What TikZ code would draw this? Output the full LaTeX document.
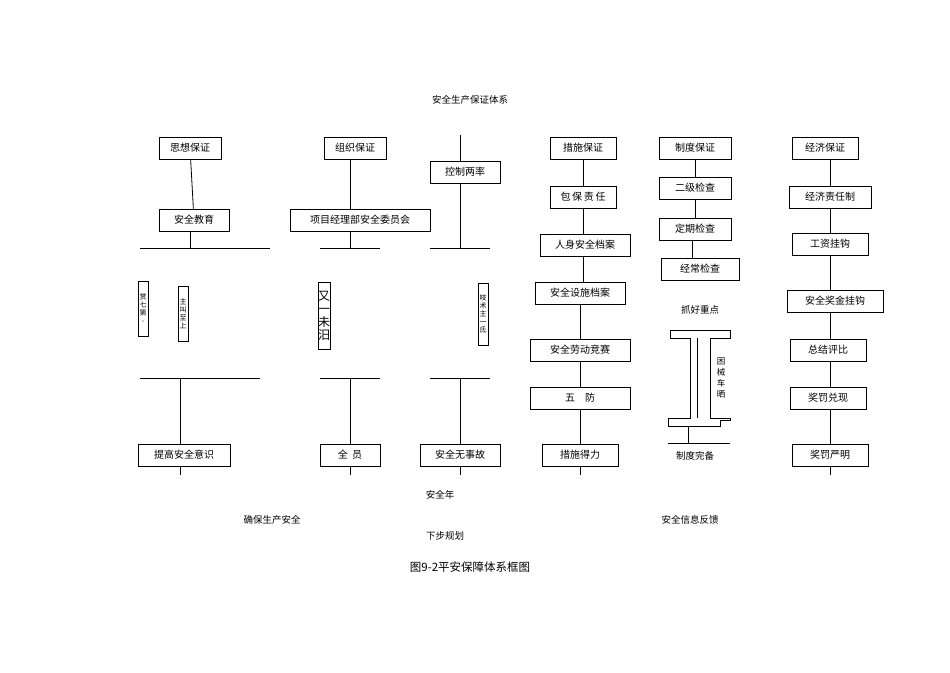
\documentclass[tikz,border=0pt]{standalone}
\usepackage{fontspec}
\newfontfamily\cjk{Noto Sans CJK SC}
\newfontfamily\cjkserif{Noto Sans CJK SC}[FakeBold=0]
\begin{document}
\begin{tikzpicture}[x=1pt,y=-1pt,
  box/.style={draw,line width=0.8pt,minimum height=22pt,inner sep=1pt,font=\cjk\fontsize{10}{11}\selectfont},
  lbl/.style={font=\cjk\fontsize{9.5}{11}\selectfont,inner sep=0pt},
  vbox/.style={draw,line width=0.5pt,inner sep=0.5pt,align=center,font=\cjk\fontsize{7}{8}\selectfont},
  ln/.style={line width=0.8pt}]
\useasboundingbox (0,0) rectangle (950,672);
\node[lbl] (title) at (470,100) {安全生产保证体系};
% column 1
\node[box,minimum width=62pt] (a1) at (190,148) {思想保证};
\node[box,minimum width=70pt] (a2) at (194,220) {安全教育};
\coordinate (a3) at (190,248);
\draw[ln] (a1) -- (a2); \draw[ln] (a2.south -| a3) -- (a3);
\draw[ln] (140,248) -- (270,248);
\node[vbox,minimum height=55pt,minimum width=10pt] (av1) at (143,309) {赏\\七\\第\\-};
\node[vbox,minimum height=55pt,minimum width=10pt] (av2) at (183,314) {主\\叫\\至\\上};
\draw[ln] (140,378) -- (260,378);
\node[box,minimum width=92pt] (a4) at (184,455) {提高安全意识};
\coordinate (a5) at (180,378);
\draw[ln] (a5) -- (a4.north -| a5); \draw[ln] (a4.south -| a5) -- (180,475);
% column 2
\node[box,minimum width=62pt] (b1) at (355,148) {组织保证};
\node[box,minimum width=140pt] (b2) at (360,220) {项目经理部安全委员会};
\draw[ln] (b1.south -| 350,0) -- (b2.north -| 350,0);
\draw[ln] (b2.south -| 350,0) -- (350,248);
\draw[ln] (320,248) -- (380,248);
\node[vbox,minimum height=67pt,minimum width=12pt,font=\cjk\fontsize{12}{13}\selectfont,inner sep=0pt] (bv) at (324,316) {又\\一\\未\\汨};
\draw[ln] (320,378) -- (380,378);
\node[box,minimum width=60pt] (b3) at (350,455) {全\ \ 员};
\draw[ln] (350,378) -- (b3.north); \draw[ln] (b3.south) -- (350,475);
% column 3
\node[box,minimum width=70pt] (c1) at (465,172) {控制两率};
\draw[ln] (460,135) -- (c1.north -| 460,0); \draw[ln] (c1.south -| 460,0) -- (460,248);
\draw[ln] (430,248) -- (490,248);
\node[vbox,minimum height=62pt,minimum width=10pt] (cv) at (483,314) {吱\\术\\主\\一\\氐};
\draw[ln] (430,378) -- (490,378);
\node[box,minimum width=80pt] (c2) at (460,455) {安全无事故};
\draw[ln] (460,378) -- (c2.north); \draw[ln] (c2.south) -- (460,475);
% column 4
\node[box,minimum width=66pt] (d1) at (583,148) {措施保证};
\node[box,minimum width=66pt] (d2) at (583,197) {包\,保\,责\,任};
\node[box,minimum width=90pt] (d3) at (585,245) {人身安全档案};
\node[box,minimum width=90pt] (d4) at (580,293) {安全设施档案};
\node[box,minimum width=100pt] (d5) at (580,350) {安全劳动竞赛};
\node[box,minimum width=100pt] (d6) at (580,398) {五\quad 防};
\node[box,minimum width=76pt] (d7) at (580,455) {措施得力};
\draw[ln] (d1.south -| 583,0) -- (d2.north -| 583,0);
\draw[ln] (d2.south -| 583,0) -- (d3.north -| 583,0);
\draw[ln] (d3.south -| 583,0) -- (d4.north -| 583,0);
\draw[ln] (d4.south -| 580,0) -- (d5.north);
\draw[ln] (d5) -- (d6); \draw[ln] (d6) -- (d7); \draw[ln] (d7.south) -- (580,475);
% column 5
\node[box,minimum width=72pt] (e1) at (695,148) {制度保证};
\node[box,minimum width=72pt] (e2) at (695,188) {二级检查};
\node[box,minimum width=72pt] (e3) at (695,229) {定期检查};
\node[box,minimum width=78pt] (e4) at (700,269) {经常检查};
\draw[ln] (e1) -- (e2); \draw[ln] (e2) -- (e3); \draw[ln] (e3.south -| 692,0) -- (e4.north -| 692,0);
\node[lbl] (e5) at (700,310) {抓好重点};
\draw[line width=0.6pt] (670,330) -- (730,330) -- (730,338) -- (710,338) -- (710,418) -- (730,418) -- (730,420) -- (720,420) -- (720,426) -- (668,426) -- (668,418) -- (690,418) -- (690,338) -- (670,338) -- cycle;
\draw[line width=0.6pt] (697,338) -- (697,418);
\node[lbl,align=center,font=\cjk\fontsize{8.5}{11}\selectfont] (e6) at (721,378) {困\\械\\车\\晒};
\coordinate (e7) at (688,426);
\draw[ln] (e7) -- (688,443);
\draw[ln] (668,443) -- (730,443);
\node[lbl] (e8) at (695,456) {制度完备};
% column 6
\node[box,minimum width=66pt] (f1) at (825,148) {经济保证};
\node[box,minimum width=82pt] (f2) at (830,197) {经济责任制};
\node[box,minimum width=76pt] (f3) at (830,244) {工资挂钩};
\node[box,minimum width=96pt] (f4) at (835,301) {安全奖金挂钩};
\node[box,minimum width=76pt] (f5) at (828,350) {总结评比};
\node[box,minimum width=76pt] (f6) at (828,398) {奖罚兑现};
\node[box,minimum width=76pt] (f7) at (830,455) {奖罚严明};
\draw[ln] (f1.south -| 830,0) -- (f2.north -| 830,0);
\foreach \p/\q in {f2/f3,f3/f4,f4/f5,f5/f6,f6/f7} \draw[ln] (\p.south -| 830,0) -- (\q.north -| 830,0);
\draw[ln] (f7.south -| 830,0) -- (830,475);
% bottom
\node[lbl] (g1) at (440,495) {安全年};
\node[lbl] (g2) at (272,520) {确保生产安全};
\node[lbl] (g3) at (690,520) {安全信息反馈};
\node[lbl] (g4) at (445,536) {下步规划};
\node[font=\fontsize{11.5}{13}\selectfont\cjk,inner sep=0pt] (cap) at (470,567) {图9-2平安保障体系框图};
\end{tikzpicture}
\end{document}
